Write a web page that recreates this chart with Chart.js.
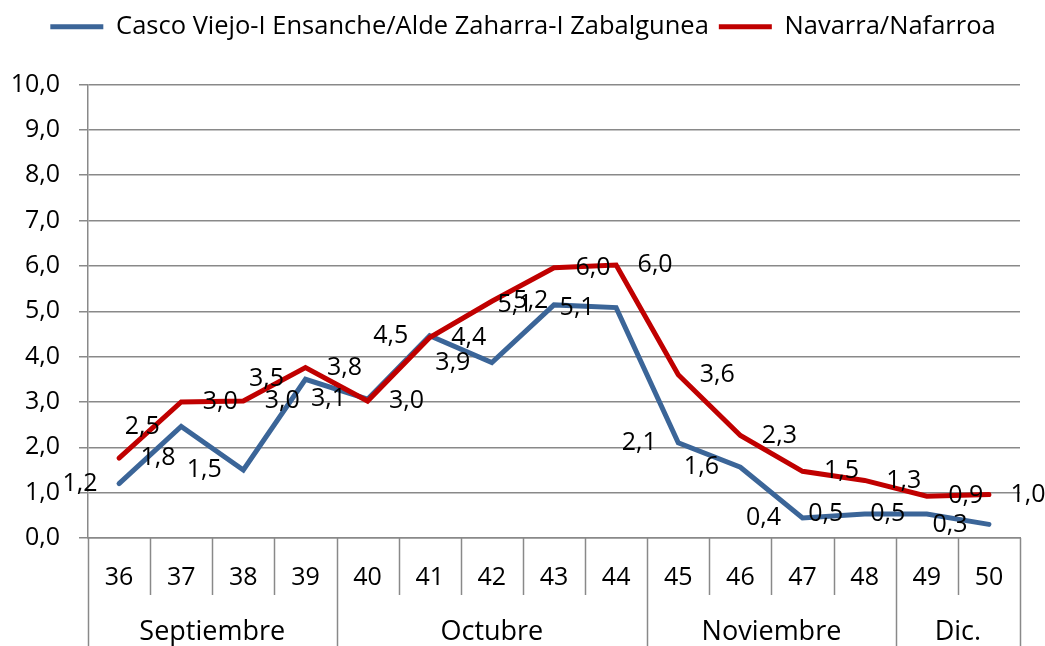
<!DOCTYPE html>
<html>
<head>
<meta charset="utf-8">
<script src="https://cdn.jsdelivr.net/npm/chart.js@4.4.0/dist/chart.umd.min.js"></script>
<style>
  html, body { margin: 0; padding: 0; background: #fff; }
  #wrap { width: 1045px; height: 646px; }
</style>
</head>
<body>
<div id="wrap"><canvas id="weeklyChart"></canvas></div>
<script>
// Semanas y meses del eje X
const weeks = ['36', '37', '38', '39', '40', '41', '42', '43', '44', '45', '46', '47', '48', '49', '50'];
const monthNames = ['Septiembre', 'Octubre', 'Noviembre', 'Dic.'];
const monthSpans = [4, 5, 4, 2];

// Series
const cascoLabel = 'Casco Viejo-I Ensanche/Alde Zaharra-I Zabalgunea';
const cascoValues = [1.2, 2.46, 1.5, 3.5, 3.06, 4.46, 3.87, 5.14, 5.08, 2.1, 1.56, 0.44, 0.53, 0.53, 0.3];
const navarraLabel = 'Navarra/Nafarroa';
const navarraValues = [1.76, 3.0, 3.02, 3.76, 3.02, 4.42, 5.22, 5.96, 6.02, 3.6, 2.26, 1.47, 1.27, 0.92, 0.96];

// Eje Y
const yMin = 0;
const yMax = 10;
const yStep = 1;

const FONT = "'Open Sans', sans-serif";
const GRID = '#898989';

function fmt(v) {
    return v.toFixed(1).replace('.', ',');
}

// más espacio bajo la leyenda, y leyenda centrada en toda la imagen
const legendSpace = {
    id: 'legendSpace',
    afterInit(chart) {
        const legend = chart.legend;
        if (!legend) return;
        const fit = legend.fit;
        legend.fit = function() {
            fit.call(this);
            this.height += 35;
        };
        const draw = legend.draw;
        legend.draw = function() {
            this.ctx.save();
            this.ctx.translate(13, 0);
            draw.call(this);
            this.ctx.restore();
        };
    }
};

// etiquetas de datos: azul a la izquierda, rojo a la derecha
const dataLabels = {
    id: 'dataLabels',
    afterDatasetsDraw(chart) {
        const ctx = chart.ctx;
        ctx.save();
        ctx.font = '25px ' + FONT;
        ctx.fillStyle = '#000';
        ctx.textAlign = 'center';
        ctx.textBaseline = 'middle';
        chart.data.datasets.forEach((ds, i) => {
            const meta = chart.getDatasetMeta(i);
            const dx = i === 0 ? -39 : 39;
            meta.data.forEach((pt, j) => {
                ctx.fillText(fmt(ds.data[j]), pt.x + dx, pt.y);
            });
        });
        ctx.restore();
    }
};

// tabla de categorías bajo el eje (semanas + meses)
const categoryTable = {
    id: 'categoryTable',
    afterDraw(chart) {
        const ctx = chart.ctx;
        const xs = chart.scales.x;
        const top = chart.chartArea.bottom;
        const bottom = chart.height;
        const n = weeks.length;

        const monthEdges = [0];
        monthSpans.forEach(s => monthEdges.push(monthEdges[monthEdges.length - 1] + s));

        const edgeX = i => {
            if (i === 0) return xs.left;
            if (i === n) return xs.right;
            return (xs.getPixelForValue(i - 1) + xs.getPixelForValue(i)) / 2;
        };

        ctx.save();
        ctx.strokeStyle = GRID;
        ctx.lineWidth = 1.5;
        for (let i = 0; i <= n; i++) {
            const x = Math.round(edgeX(i)) + 0.5;
            const isMonth = monthEdges.includes(i);
            ctx.beginPath();
            ctx.moveTo(x, top);
            ctx.lineTo(x, isMonth ? bottom : top + 57);
            ctx.stroke();
        }

        ctx.fillStyle = '#000';
        ctx.textAlign = 'center';
        ctx.textBaseline = 'middle';
        ctx.font = '25px ' + FONT;
        weeks.forEach((w, i) => {
            ctx.fillText(w, xs.getPixelForValue(i), top + 40);
        });
        ctx.font = '27px ' + FONT;
        monthNames.forEach((m, k) => {
            const x = (edgeX(monthEdges[k]) + edgeX(monthEdges[k + 1])) / 2;
            ctx.fillText(m, x, top + 94);
        });
        ctx.restore();
    }
};

document.addEventListener('DOMContentLoaded', function() {
    const ctx = document.getElementById('weeklyChart').getContext('2d');

    new Chart(ctx, {
        type: 'line',
        data: {
            labels: weeks,
            datasets: [{
                label: cascoLabel,
                data: cascoValues,
                borderColor: '#3b6598',
                backgroundColor: '#3b6598',
                borderWidth: 5,
                borderCapStyle: 'round',
                pointRadius: 0,
                tension: 0,
                order: 0
            }, {
                label: navarraLabel,
                data: navarraValues,
                borderColor: '#c00000',
                backgroundColor: '#c00000',
                borderWidth: 5,
                borderCapStyle: 'round',
                pointRadius: 0,
                tension: 0,
                order: -1
            }]
        },
        options: {
            responsive: true,
            maintainAspectRatio: false,
            animation: false,
            layout: {
                padding: { left: 0, right: 25, top: 4, bottom: 0 }
            },
            plugins: {
                legend: {
                    display: true,
                    position: 'top',
                    labels: {
                        usePointStyle: true,
                        pointStyle: 'line',
                        pointStyleWidth: 53,
                        boxHeight: 5,
                        color: '#000',
                        font: { family: FONT, size: 25.5 },
                        padding: 10,
                        sort: (a, b) => a.datasetIndex - b.datasetIndex
                    }
                },
                tooltip: { enabled: false }
            },
            scales: {
                x: {
                    type: 'category',
                    offset: true,
                    grid: { display: false },
                    border: { display: true, color: GRID, width: 1.5 },
                    ticks: { display: false },
                    afterFit: s => { s.height = 108; }
                },
                y: {
                    min: yMin,
                    max: yMax,
                    ticks: {
                        stepSize: yStep,
                        color: '#000',
                        padding: 19,
                        font: { family: FONT, size: 25 },
                        callback: v => fmt(v)
                    },
                    grid: { color: GRID, lineWidth: 1.5, tickLength: 9 },
                    border: { color: GRID, width: 1.5 },
                    afterFit: s => { s.width = 88; }
                }
            }
        },
        plugins: [legendSpace, dataLabels, categoryTable]
    });
});
</script>
</body>
</html>
